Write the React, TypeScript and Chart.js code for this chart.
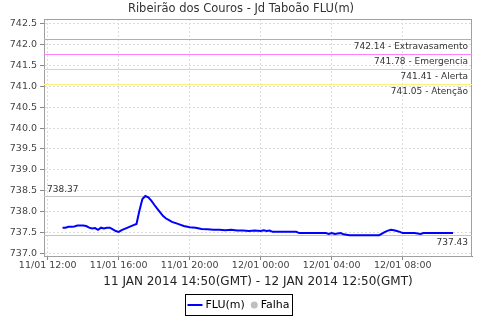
import { useEffect, useRef } from "react";
import { Chart, registerables } from "chart.js";

Chart.register(...registerables);

const TITLE = "Ribeirão dos Couros - Jd Taboão FLU(m)";
const X_TITLE = "11 JAN 2014 14:50(GMT) - 12 JAN 2014 12:50(GMT)";
const SERIES_NAME = "FLU(m)";
const FAIL_NAME = "Falha";

const TIMES = [
  "11/01 12:50", "11/01 13:00", "11/01 13:10", "11/01 13:20", "11/01 13:30", "11/01 13:40",
  "11/01 13:50", "11/01 14:00", "11/01 14:10", "11/01 14:20", "11/01 14:30", "11/01 14:40",
  "11/01 14:50", "11/01 15:00", "11/01 15:10", "11/01 15:20", "11/01 15:30", "11/01 15:40",
  "11/01 15:50", "11/01 16:00", "11/01 16:10", "11/01 16:20", "11/01 16:30", "11/01 16:40",
  "11/01 16:50", "11/01 17:00", "11/01 17:10", "11/01 17:20", "11/01 17:30", "11/01 17:40",
  "11/01 17:50", "11/01 18:00", "11/01 18:10", "11/01 18:20", "11/01 18:30", "11/01 18:40",
  "11/01 18:50", "11/01 19:00", "11/01 19:20", "11/01 19:40", "11/01 20:00", "11/01 20:20",
  "11/01 20:40", "11/01 21:00", "11/01 21:20", "11/01 21:40", "11/01 22:00", "11/01 22:20",
  "11/01 22:40", "11/01 23:00", "11/01 23:20", "11/01 23:40", "12/01 00:00", "12/01 00:10",
  "12/01 00:20", "12/01 00:30", "12/01 00:40", "12/01 01:00", "12/01 01:30", "12/01 02:00",
  "12/01 02:10", "12/01 02:40", "12/01 03:10", "12/01 03:40", "12/01 03:50", "12/01 04:00",
  "12/01 04:10", "12/01 04:20", "12/01 04:30", "12/01 04:40", "12/01 05:00", "12/01 05:30",
  "12/01 06:00", "12/01 06:30", "12/01 06:40", "12/01 06:50", "12/01 07:00", "12/01 07:10",
  "12/01 07:20", "12/01 07:30", "12/01 07:40", "12/01 07:50", "12/01 08:00", "12/01 08:20",
  "12/01 08:40", "12/01 09:00", "12/01 09:10", "12/01 09:30", "12/01 10:00", "12/01 10:30",
  "12/01 10:50",
];

const LEVELS = [
  737.61, 737.61, 737.63, 737.63, 737.64, 737.66,
  737.66, 737.66, 737.65, 737.61, 737.59, 737.60,
  737.56, 737.61, 737.59, 737.61, 737.61, 737.57,
  737.53, 737.51, 737.55, 737.58, 737.61, 737.64,
  737.67, 737.70, 738.02, 738.30, 738.37, 738.34,
  738.26, 738.16, 738.07, 737.98, 737.89, 737.83,
  737.79, 737.75, 737.70, 737.65, 737.62, 737.61,
  737.58, 737.57, 737.56, 737.56, 737.55, 737.56,
  737.54, 737.54, 737.53, 737.54, 737.53, 737.55,
  737.53, 737.54, 737.51, 737.51, 737.51, 737.51,
  737.48, 737.48, 737.48, 737.48, 737.46, 737.48,
  737.46, 737.47, 737.48, 737.45, 737.43, 737.43,
  737.43, 737.43, 737.43, 737.47, 737.51, 737.54,
  737.56, 737.55, 737.53, 737.51, 737.48, 737.48,
  737.48, 737.46, 737.48, 737.48, 737.48, 737.48,
  737.48,
];

const X_TICKS = ["11/01 12:00", "11/01 16:00", "11/01 20:00", "12/01 00:00", "12/01 04:00", "12/01 08:00"];
const Y_TICKS = [737.0, 737.5, 738.0, 738.5, 739.0, 739.5, 740.0, 740.5, 741.0, 741.5, 742.0, 742.5];

const THRESHOLD_VALUES = [742.14, 741.78, 741.41, 741.05];
const THRESHOLD_NAMES = ["Extravasamento", "Emergencia", "Alerta", "Atenção"];
const THRESHOLD_COLORS = ["#f09494", "#ff80ff", "#ffc89c", "#fff07a"];

const FONT = "DejaVu Sans";

function toHours(s: string): number {
  const [d, hm] = s.split(" ");
  const day = Number(d.split("/")[0]);
  const [h, m] = hm.split(":").map(Number);
  return (day - 11) * 24 + h + m / 60;
}

const overlayPlugin = {
  id: "overlay",
  beforeDatasetsDraw(chart: any) {
    const { ctx, chartArea } = chart;
    const y = chart.scales.y;
    const { left, right, top, bottom } = chartArea;
    ctx.save();
    ctx.strokeStyle = "#a0a0a0";
    ctx.lineWidth = 1;
    ctx.strokeRect(Math.round(left) + 0.5, Math.round(top) + 0.5, Math.round(right - left) - 1, Math.round(bottom - top));

    ctx.font = `9px "${FONT}"`;
    ctx.fillStyle = "#333";
    THRESHOLD_VALUES.forEach((v, i) => {
      const py = Math.round(y.getPixelForValue(v)) + 0.5;
      ctx.strokeStyle = THRESHOLD_COLORS[i];
      ctx.lineWidth = 1;
      ctx.beginPath();
      ctx.moveTo(left, py);
      ctx.lineTo(right, py);
      ctx.stroke();
      ctx.textAlign = "right";
      ctx.textBaseline = "top";
      ctx.fillText(`${v.toFixed(2)} - ${THRESHOLD_NAMES[i]}`, right - 4, py + 3);
    });
    const maxV = Math.max(...LEVELS);
    const minV = Math.min(...LEVELS);
    [maxV, minV].forEach((v, i) => {
      const py = Math.round(y.getPixelForValue(v)) + 0.5;
      ctx.strokeStyle = "#c4c4c4";
      ctx.beginPath();
      ctx.moveTo(left, py);
      ctx.lineTo(right, py);
      ctx.stroke();
      if (i === 0) {
        ctx.textAlign = "left";
        ctx.textBaseline = "bottom";
        ctx.fillText(v.toFixed(2), left + 3, py - 2);
      } else {
        ctx.textAlign = "right";
        ctx.textBaseline = "top";
        ctx.fillText(v.toFixed(2), right - 4, py + 3);
      }
    });
    ctx.restore();
  },
  afterDraw(chart: any) {
    const { ctx } = chart;
    ctx.save();
    ctx.font = `11.5px "${FONT}"`;
    ctx.fillStyle = "#333";
    ctx.textAlign = "center";
    ctx.textBaseline = "middle";
    ctx.fillText(TITLE, 241, 9);

    ctx.font = `11px "${FONT}"`;
    const w1 = ctx.measureText(SERIES_NAME).width;
    const w2 = ctx.measureText(FAIL_NAME).width;
    const total = 2 + 15 + 3 + w1 + 6 + 7 + 3 + w2 + 3;
    const bx = Math.round(238.5 - total / 2) + 0.5;
    const by = 294.5;
    const bh = 21;
    const cy = by + bh / 2;
    ctx.strokeStyle = "#000";
    ctx.lineWidth = 1;
    ctx.strokeRect(bx, by, Math.round(total), bh);
    let x = bx + 2;
    ctx.strokeStyle = "#0000ff";
    ctx.lineWidth = 2;
    ctx.beginPath();
    ctx.moveTo(x, cy);
    ctx.lineTo(x + 15, cy);
    ctx.stroke();
    x += 18;
    ctx.fillStyle = "#000";
    ctx.textAlign = "left";
    ctx.textBaseline = "middle";
    ctx.fillText(SERIES_NAME, x, cy);
    x += w1 + 6;
    ctx.fillStyle = "#c0c0c0";
    ctx.beginPath();
    ctx.arc(x + 3.5, cy, 3.5, 0, Math.PI * 2);
    ctx.fill();
    x += 10;
    ctx.fillStyle = "#000";
    ctx.fillText(FAIL_NAME, x, cy);
    ctx.restore();
  },
};

export default function App() {
  const ref = useRef<HTMLCanvasElement>(null);
  useEffect(() => {
    document.body.style.margin = "0";
    const points = TIMES.map((t, i) => ({ x: toHours(t), y: LEVELS[i] }));
    const chart = new Chart(ref.current as HTMLCanvasElement, {
      type: "line",
      data: {
        datasets: [
          {
            label: SERIES_NAME,
            data: points,
            borderColor: "#0000ff",
            backgroundColor: "#0000ff",
            borderWidth: 2,
            pointRadius: 0,
            tension: 0,
            fill: false,
          },
        ],
      },
      options: {
        responsive: false,
        animation: false,
        events: [],
        layout: { padding: { top: 19, left: 0, right: 8, bottom: 28 } },
        plugins: {
          legend: { display: false },
          title: { display: false },
          tooltip: { enabled: false },
        },
        scales: {
          x: {
            type: "linear",
            min: 11.79,
            max: 35.9,
            afterFit: (s: any) => { s.height = 36; },
            afterBuildTicks: (s: any) => { s.ticks = X_TICKS.map((t) => ({ value: toHours(t) })); },
            ticks: {
              autoSkip: false,
              maxRotation: 0,
              padding: 0,
              color: "#444",
              font: { family: FONT, size: 9.5 },
              callback: (_v: any, i: number) => X_TICKS[i],
            },
            grid: { color: "#dcdcdc", lineWidth: 1, drawTicks: true, tickLength: 4, tickColor: "#888" },
            border: { display: true, color: "#888", width: 1, dash: [2, 2] },
            title: {
              display: true,
              text: X_TITLE,
              color: "#222",
              font: { family: FONT, size: 12 },
              padding: { top: 0, bottom: 3 },
            },
          },
          y: {
            type: "linear",
            min: 736.93,
            max: 742.62,
            afterFit: (s: any) => { s.width = 44; },
            afterBuildTicks: (s: any) => { s.ticks = Y_TICKS.map((v) => ({ value: v })); },
            ticks: {
              padding: 3,
              color: "#444",
              font: { family: FONT, size: 9.5 },
              callback: (v: any) => Number(v).toFixed(1),
            },
            grid: { color: "#dcdcdc", lineWidth: 1, drawTicks: true, tickLength: 4, tickColor: "#888" },
            border: { display: true, color: "#888", width: 1, dash: [2, 2] },
          },
        },
      } as any,
      plugins: [overlayPlugin],
    });
    return () => chart.destroy();
  }, []);
  return (
    <div style={{ width: 480, height: 320 }}>
      <canvas ref={ref} width={480} height={320} style={{ display: "block" }} />
    </div>
  );
}
